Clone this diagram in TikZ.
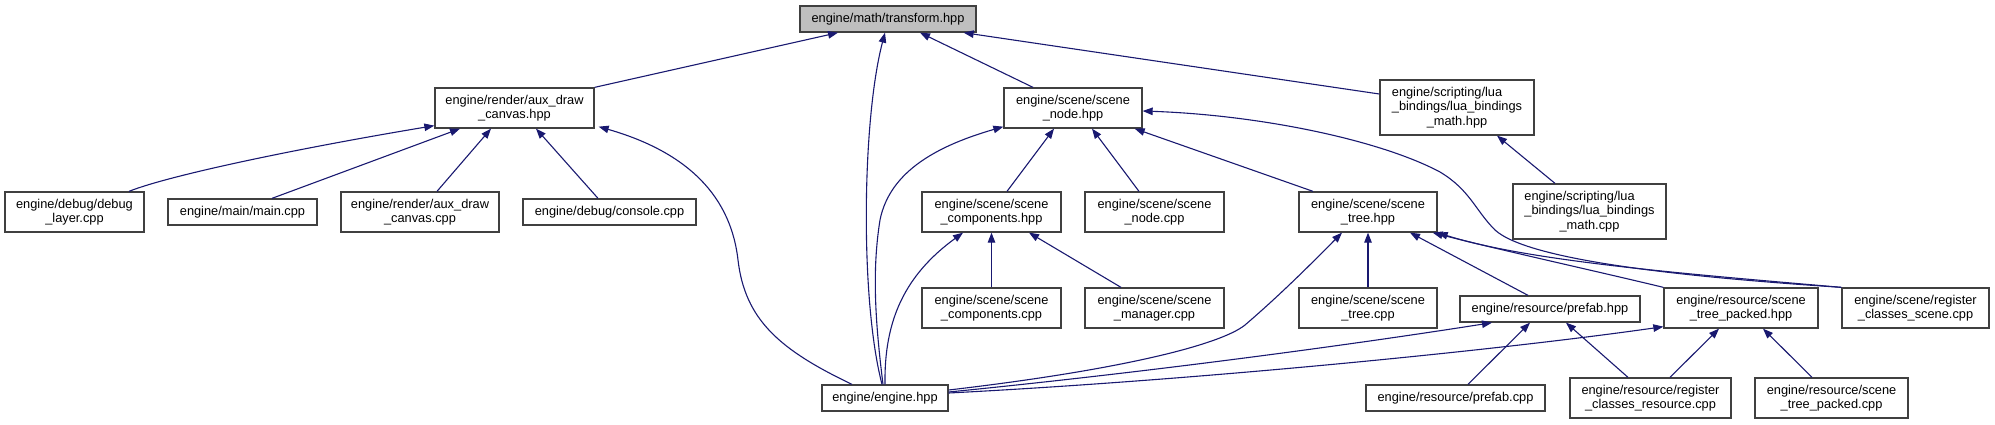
\documentclass[tikz,border=0pt]{standalone}
\usepackage{fontspec}
\setmainfont{Liberation Sans}
\usetikzlibrary{arrows.meta}
\definecolor{edgec}{HTML}{191970}
\definecolor{boxc}{HTML}{404040}
\definecolor{hlc}{HTML}{BFBFBF}
\begin{document}
\begin{tikzpicture}[x=1pt,y=-1pt,
  nd/.style={draw=boxc, line width=1.3pt, fill=white, inner sep=0pt, align=center,
             font=\fontsize{12.8}{14.5}\selectfont},
  sz/.style 2 args={minimum width=#1pt, minimum height=#2pt},
  edge/.style={draw=edgec, line width=1.1pt, -{Triangle[length=10pt,width=7.5pt]}}]
\useasboundingbox (0,0) rectangle (1995,424);
% nodes
\node[nd,sz={176}{26},fill=hlc] (tr) at (888,19) {engine/math/transform.hpp};
\node[nd,sz={159}{40}] (auxh) at (514.5,108) {engine/render/aux\_draw\\\_canvas.hpp};
\node[nd,sz={138}{40}] (snh) at (1073,108) {engine/scene/scene\\\_node.hpp};
\node[nd,sz={154}{55}] (luah) at (1457,107.5) {\rlap{engine/scripting/lua}\phantom{\_bindings/lua\_bindings}\\\_bindings/lua\_bindings\\\_math.hpp};
\node[nd,sz={139}{40}] (dbg) at (74.5,212) {engine/debug/debug\\\_layer.cpp};
\node[nd,sz={149}{26}] (mainc) at (242.5,212) {engine/main/main.cpp};
\node[nd,sz={158}{40}] (auxc) at (420,212) {engine/render/aux\_draw\\\_canvas.cpp};
\node[nd,sz={173}{26}] (cons) at (609.5,212) {engine/debug/console.cpp};
\node[nd,sz={139}{40}] (scph) at (991.5,212) {engine/scene/scene\\\_components.hpp};
\node[nd,sz={139}{40}] (sncp) at (1154.5,212) {engine/scene/scene\\\_node.cpp};
\node[nd,sz={138}{40}] (sth) at (1368,212) {engine/scene/scene\\\_tree.hpp};
\node[nd,sz={153}{55}] (luac) at (1589.5,211.5) {\rlap{engine/scripting/lua}\phantom{\_bindings/lua\_bindings}\\\_bindings/lua\_bindings\\\_math.cpp};
\node[nd,sz={139}{40}] (scpc) at (991.5,308) {engine/scene/scene\\\_components.cpp};
\node[nd,sz={139}{40}] (smgr) at (1154.5,308) {engine/scene/scene\\\_manager.cpp};
\node[nd,sz={138}{40}] (stc) at (1368,308) {engine/scene/scene\\\_tree.cpp};
\node[nd,sz={180}{26}] (pfh) at (1550,309) {engine/resource/prefab.hpp};
\node[nd,sz={154}{40}] (stph) at (1741,308) {engine/resource/scene\\\_tree\_packed.hpp};
\node[nd,sz={147}{40}] (rcs) at (1915.5,308) {engine/scene/register\\\_classes\_scene.cpp};
\node[nd,sz={126}{26}] (eng) at (885,398) {engine/engine.hpp};
\node[nd,sz={179}{26}] (pfc) at (1455.5,398) {engine/resource/prefab.cpp};
\node[nd,sz={161}{40}] (rcr) at (1650.5,398) {engine/resource/register\\\_classes\_resource.cpp};
\node[nd,sz={153}{40}] (stpc) at (1831.5,398) {engine/resource/scene\\\_tree\_packed.cpp};
% edges into transform
\draw[edge] (auxh.north east) -- ([xshift=-50pt]tr.south);
\draw[edge] ([xshift=-3pt]eng.north) .. controls (860,300) and (862,120) .. ([xshift=-3pt]tr.south);
\draw[edge] ([xshift=-40pt]snh.north) -- ([xshift=32pt]tr.south);
\draw[edge] ([yshift=13.5pt]luah.west) -- ([xshift=-13pt]tr.south east);
% edges into aux_draw_canvas.hpp
\draw[edge] ([xshift=54.5pt]dbg.north) .. controls (170,175) and (300,148) .. ([yshift=3pt]auxh.south west);
\draw[edge] ([xshift=29.5pt]mainc.north) -- ([xshift=-54.5pt]auxh.south);
\draw[edge] ([xshift=17pt]auxc.north) -- ([xshift=-23.5pt]auxh.south);
\draw[edge] ([xshift=-11.5pt]cons.north) -- ([xshift=21.5pt]auxh.south);
\draw[edge] ([xshift=-33pt]eng.north) .. controls (780,350) and (745,320) .. (738,260) .. controls (730,190) and (680,150) .. ([xshift=4pt,yshift=2pt]auxh.south east);
% edges into scene_node.hpp
\draw[edge] ([xshift=-2pt]eng.north) .. controls (875,320) and (872,270) .. (880,220) .. controls (890,170) and (940,145) .. ([yshift=2pt]snh.south west);
\draw[edge] ([xshift=15.5pt]scph.north) -- ([xshift=-19pt]snh.south);
\draw[edge] ([xshift=-15.5pt]sncp.north) -- ([xshift=19pt]snh.south);
\draw[edge] ([xshift=-55pt]sth.north) -- ([xshift=-8pt]snh.south east);
\draw[edge] (rcs.north west) .. controls (1700,278) and (1530,262) .. (1495,230) .. controls (1475,210) and (1470,190) .. (1440,172) .. controls (1380,140) and (1260,115) .. ([yshift=-3pt]snh.east);
% lua
\draw[edge] ([xshift=-34.5pt]luac.north) -- ([xshift=40pt]luah.south);
% scene_components.hpp
\draw[edge] (eng.north) .. controls (884,320) and (905,275) .. ([xshift=-28.5pt]scph.south);
\draw[edge] (scpc.north) -- (scph.south);
\draw[edge] ([xshift=-33.5pt]smgr.north) -- ([xshift=37.5pt]scph.south);
% scene_tree.hpp
\draw[edge] ([yshift=8pt]eng.east) .. controls (1120,370) and (1220,345) .. (1245,325) .. controls (1280,295) and (1310,265) .. ([xshift=-26pt]sth.south);
\draw[edge] (stc.north) -- (sth.south);
\draw[edge] ([xshift=-22pt]pfh.north) -- ([xshift=42pt]sth.south);
\draw[edge] (stph.north west) .. controls (1600,272) and (1500,250) .. ([xshift=-5pt]sth.south east);
\draw[edge] (rcs.north west) .. controls (1700,275) and (1530,262) .. (sth.south east);
% prefab.hpp
\draw[edge] ([yshift=6pt]eng.east) .. controls (1150,372) and (1350,345) .. ([xshift=-58pt]pfh.south);
\draw[edge] ([xshift=12.5pt]pfc.north) -- ([xshift=-20pt]pfh.south);
\draw[edge] ([xshift=-22.5pt]rcr.north) -- ([xshift=16pt]pfh.south);
% scene_tree_packed.hpp
\draw[edge] ([yshift=5pt]eng.east) .. controls (1200,380) and (1500,350) .. ([yshift=2pt]stph.south west);
\draw[edge] ([xshift=19.5pt]rcr.north) -- ([xshift=-22pt]stph.south);
\draw[edge] ([xshift=-19.5pt]stpc.north) -- ([xshift=22pt]stph.south);
\end{tikzpicture}
\end{document}
